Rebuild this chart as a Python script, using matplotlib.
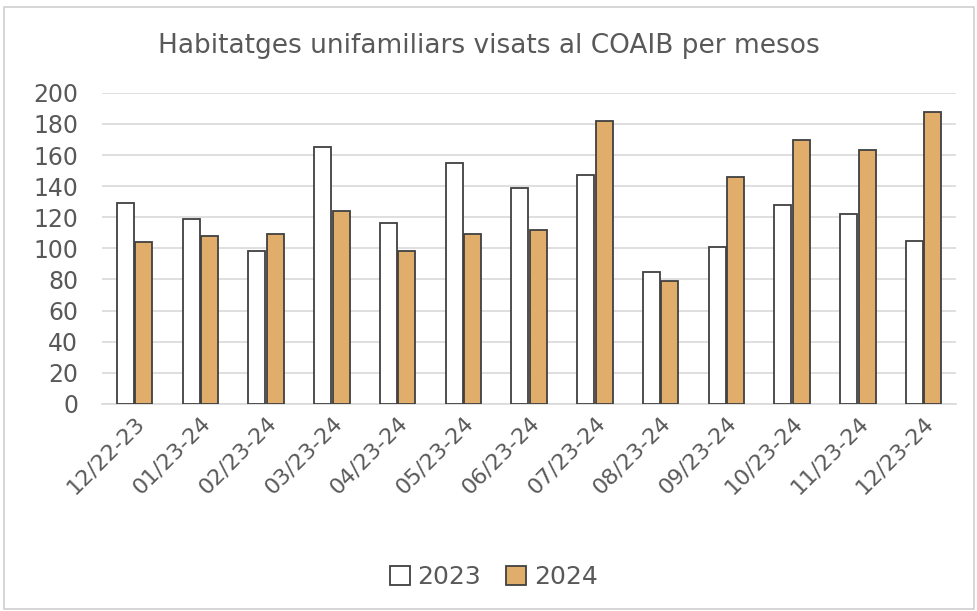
import matplotlib.pyplot as plt
import numpy as np
from matplotlib.patches import Rectangle

# Data
months = ["12/22-23", "01/23-24", "02/23-24", "03/23-24", "04/23-24", "05/23-24",
          "06/23-24", "07/23-24", "08/23-24", "09/23-24", "10/23-24", "11/23-24", "12/23-24"]
vals_2023 = [129, 119, 98, 165, 116, 155, 139, 147, 85, 101, 128, 122, 105]
vals_2024 = [104, 108, 109, 124, 98, 109, 112, 182, 79, 146, 170, 163, 188]

grey = "#595959"
orange = "#e0ad6b"

fig = plt.figure(figsize=(9.78, 6.11), dpi=100)
fig.patch.set_facecolor("white")
# light frame around the chart
fig.patches.append(Rectangle((0.004, 0.004), 0.992, 0.984, transform=fig.transFigure,
                             fill=False, edgecolor="#d0d0d0", linewidth=1.2))

ax = fig.add_axes([0.104, 0.339, 0.874, 0.509])
x = np.arange(len(months))
w = 0.26
ax.bar(x - w / 2 - 0.01, vals_2023, w, color="white", edgecolor="#404040", linewidth=1.3, label="2023", zorder=3)
ax.bar(x + w / 2 + 0.01, vals_2024, w, color=orange, edgecolor="#404040", linewidth=1.3, label="2024", zorder=3)

ax.set_ylim(0, 200)
ax.set_xlim(-0.5, len(months) - 0.5)
ax.set_yticks(range(0, 201, 20))
ax.yaxis.grid(True, color="#d9d9d9", linewidth=1.2, zorder=0)
ax.set_axisbelow(True)
for s in ["top", "right", "left"]:
    ax.spines[s].set_visible(False)
ax.spines["bottom"].set_color("#d9d9d9")
ax.spines["bottom"].set_linewidth(1.2)
ax.tick_params(axis="y", length=0, colors=grey, labelsize=17, pad=17)
ax.tick_params(axis="x", length=0, colors=grey, labelsize=16, pad=6)
ax.set_xticks(x)
ax.set_xticklabels(months, rotation=45, ha="right", rotation_mode="anchor")

fig.text(0.5, 0.925, "Habitatges unifamiliars visats al COAIB per mesos", ha="center", va="center",
         fontsize=19, color=grey)

ax.legend(loc="center", bbox_to_anchor=(0.505, 0.055), bbox_transform=fig.transFigure, ncol=2,
          frameon=False, fontsize=18, labelcolor=grey, handlelength=0.8, handleheight=0.8,
          handletextpad=0.3, columnspacing=1.0)

fig.savefig("out.png", dpi=100)
